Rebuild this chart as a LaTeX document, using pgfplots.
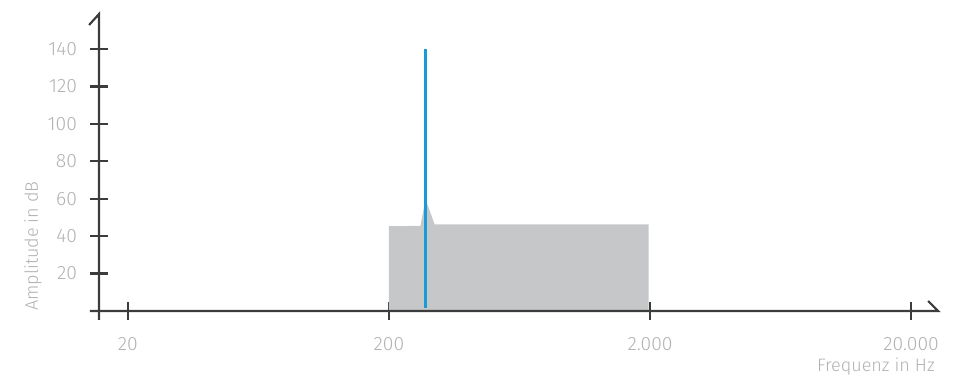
\documentclass[border=0pt]{standalone}
\usepackage{pgfplots}
\pgfplotsset{compat=1.18}
\usepackage{fontspec}
\setmainfont{Fira Sans}[UprightFont=* Light]
\definecolor{axisgray}{HTML}{3C3C3C}
\definecolor{labelgray}{HTML}{B2B2B2}
\definecolor{fillgray}{HTML}{C6C7C9}
\definecolor{lineblue}{HTML}{1A9AD6}
\begin{document}
\begin{tikzpicture}
\begin{axis}[
  scale only axis, width=629.25pt, height=222.75pt,
  xmode=log, xmin=15.5, xmax=25350, ymin=0, ymax=158.7,
  axis line style={draw=none},
  clip=false,
  xtick={20,200,2000,20000}, xticklabels={20,200,2.000,20.000},
  ytick={20,40,...,140},
  minor tick num=0, log basis x=10,
  xtick pos=bottom, ytick pos=left, tick align=center,
  major tick length=14pt,
  tick style={draw=axisgray, line width=1.7pt},
  ticklabel style={font=\fontsize{14.5}{17}\selectfont, text=labelgray},
  yticklabel style={xshift=-6pt},
  xticklabel style={yshift=-9pt},
  /pgf/number format/assume math mode=true,
]
\addplot[fill=fillgray, draw=none] coordinates {
  (200,0) (200,45.3) (264,45.5) (276,59.9) (299,46.3) (1975,46.3) (1975,0)
} \closedcycle;
\addplot[draw=lineblue, line width=2.3pt] coordinates {(277,1.5) (277,140)};
\draw[axisgray, line width=1.6pt] (axis cs:14.31,0) -- (axis cs:25350,0) -- (axis cs:23230,5.35);
\draw[axisgray, line width=1.6pt] (axis cs:15.5,-4.8) -- (axis cs:15.5,158.7) -- (axis cs:14.2,152.8);
\node[xshift=-49.5pt, rotate=90, anchor=center, text=labelgray, font=\fontsize{13.5}{16}\selectfont]
  at (axis cs:15.5,34.7) {Amplitude in dB};
\node[yshift=-42pt, xshift=1pt, anchor=east, text=labelgray, font=\fontsize{13.5}{16}\selectfont]
  at (axis cs:25350,0) {Frequenz in Hz};
\end{axis}
\pgfresetboundingbox
\path (current axis.south west) ++(-74.25pt,-52.5pt) coordinate (bbA);
\path (current axis.north east) ++(22.5pt,10.5pt) coordinate (bbB);
\path (bbA) rectangle (bbB);
\end{tikzpicture}
\end{document}
